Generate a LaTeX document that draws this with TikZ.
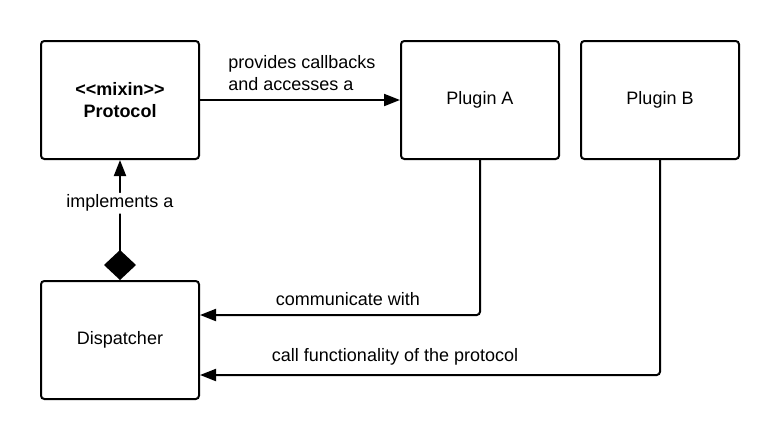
\documentclass[tikz,border=0pt]{standalone}
\usepackage{fontspec}
\setmainfont{Liberation Sans}
\usetikzlibrary{positioning}
\usetikzlibrary{arrows.meta}

\tikzset{
  umlclass/.style={draw, line width=1.5pt, rounded corners=2.5pt, fill=white,
    minimum width=118.5pt, minimum height=88.5pt, align=center, font=\fontsize{13.5}{16.5}\selectfont},
  assoc/.style={line width=1.5pt, rounded corners=2.5pt, -{Triangle[length=12pt,width=9pt]}},
  role/.style={font=\fontsize{13.5}{16.5}\selectfont, align=left, inner sep=1.5pt},
}

\begin{document}
\begin{tikzpicture}[x=0.75pt, y=-0.75pt]

\useasboundingbox (0,0) rectangle (780,440);

\node[umlclass] (Protocol) at (120,100) {\textbf{<{}<mixin>{}>}\\\textbf{Protocol}};
\node[umlclass, right=150pt of Protocol] (PluginA) {Plugin A};
\node[umlclass, right=15pt of PluginA] (PluginB) {Plugin B};
\node[umlclass, below=90pt of Protocol] (Dispatcher) {Dispatcher};

\draw[assoc] (Protocol) -- node[role, at start, anchor=south west, xshift=19pt, yshift=5pt] {provides callbacks\\and accesses a} (PluginA);
\draw[assoc, {Diamond[length=22.5pt,width=24pt]}-{Triangle[length=12pt,width=9pt]}] (Dispatcher) -- node[role, fill=white, pos=0.64] {implements a} (Protocol);
\draw[assoc] (PluginA.south) |- node[role, pos=0.736, above=5pt] {communicate with} ([yshift=18.75pt]Dispatcher.east);
\draw[assoc] (PluginB.south) |- node[role, pos=0.788, above=5pt] {call functionality of the protocol} ([yshift=-26.25pt]Dispatcher.east);

\end{tikzpicture}
\end{document}
